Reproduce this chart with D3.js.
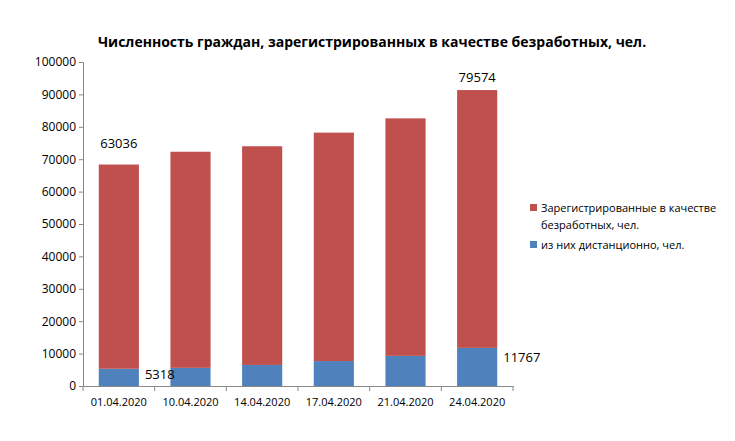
<!DOCTYPE html>
<html><head><meta charset="utf-8">
<script src="https://cdn.jsdelivr.net/npm/d3@7"></script>
<style>body{margin:0;background:#fff}text{font-family:"Open Sans","Liberation Sans",sans-serif}</style>
</head><body><div id="chart"></div>
<script>
const dates = ["01.04.2020","10.04.2020","14.04.2020","17.04.2020","21.04.2020","24.04.2020"];
const registered = [63036, 66700, 67500, 70500, 73300, 79574];
const remote = [5318, 5600, 6500, 7700, 9300, 11767];
const yTicks = [0,10000,20000,30000,40000,50000,60000,70000,80000,90000,100000];

const width = 735, height = 441;
const margin = {top: 62, left: 83, right: 222, bottom: 55};
const red = "#C0504D", blue = "#4F81BD";

const svg = d3.select("#chart").append("svg").attr("width", width).attr("height", height);

const x = d3.scaleBand().domain(dates).range([margin.left, width - margin.right]).paddingInner(0.44).paddingOuter(0.22);
const y = d3.scaleLinear().domain([0, 100000]).range([height - margin.bottom, margin.top]);

const rows = dates.map((d, i) => ({date: d, remote: remote[i], reg: registered[i]}));

svg.selectAll("rect.remote").data(rows).enter().append("rect")
  .attr("x", r => x(r.date)).attr("width", x.bandwidth())
  .attr("y", r => y(r.remote)).attr("height", r => y(0) - y(r.remote))
  .attr("fill", blue);

svg.selectAll("rect.reg").data(rows).enter().append("rect")
  .attr("x", r => x(r.date)).attr("width", x.bandwidth())
  .attr("y", r => y(r.remote + r.reg)).attr("height", r => y(r.remote) - y(r.remote + r.reg))
  .attr("fill", red);

// y axis
const ya = svg.append("g").attr("transform", `translate(${margin.left},0)`)
  .call(d3.axisLeft(y).tickValues(yTicks).tickFormat(d3.format("d")).tickSize(4));
ya.selectAll("text").style("font-size", "12px").attr("fill", "#000");
ya.selectAll("line,path").attr("stroke", "#888");

// x axis
const xa = svg.append("g").attr("transform", `translate(0,${y(0)})`)
  .call(d3.axisBottom(x).tickSize(0).tickPadding(12));
xa.selectAll("text").style("font-size", "11px").attr("fill", "#000");
xa.select("path").attr("stroke", "#888");
const step = x.step();
xa.selectAll("line.sep").data(d3.range(dates.length + 1)).enter().append("line")
  .attr("x1", i => margin.left + i * step).attr("x2", i => margin.left + i * step)
  .attr("y1", 0).attr("y2", 5).attr("stroke", "#888");

// labels
const first = rows[0], last = rows[rows.length - 1];
const lbl = (t, px, py, anchor) => svg.append("text").attr("x", px).attr("y", py)
  .attr("text-anchor", anchor).style("font-size", "13px").text(t);
lbl(first.reg, x(first.date) + x.bandwidth()/2, y(first.reg + first.remote) - 17, "middle");
lbl(last.reg, x(last.date) + x.bandwidth()/2, y(last.reg + last.remote) - 8, "middle");
lbl(first.remote, x(first.date) + x.bandwidth() + 6, y(first.remote) + 10, "start");
lbl(last.remote, x(last.date) + x.bandwidth() + 6, y(last.remote) + 14, "start");

// title
svg.append("text").attr("x", 372).attr("y", 47).attr("text-anchor", "middle")
  .style("font-size", "14px").style("font-weight", "bold")
  .text("Численность граждан, зарегистрированных в качестве безработных, чел.");

// legend
const lg = svg.append("g").style("font-size", "11px");
lg.append("rect").attr("x", 530).attr("y", 204).attr("width", 7).attr("height", 7).attr("fill", red);
lg.append("text").attr("x", 541).attr("y", 212).text("Зарегистрированные в качестве");
lg.append("text").attr("x", 541).attr("y", 229).text("безработных, чел.");
lg.append("rect").attr("x", 530).attr("y", 241).attr("width", 7).attr("height", 7).attr("fill", blue);
lg.append("text").attr("x", 541).attr("y", 249).text("из них дистанционно, чел.");
</script></body></html>
